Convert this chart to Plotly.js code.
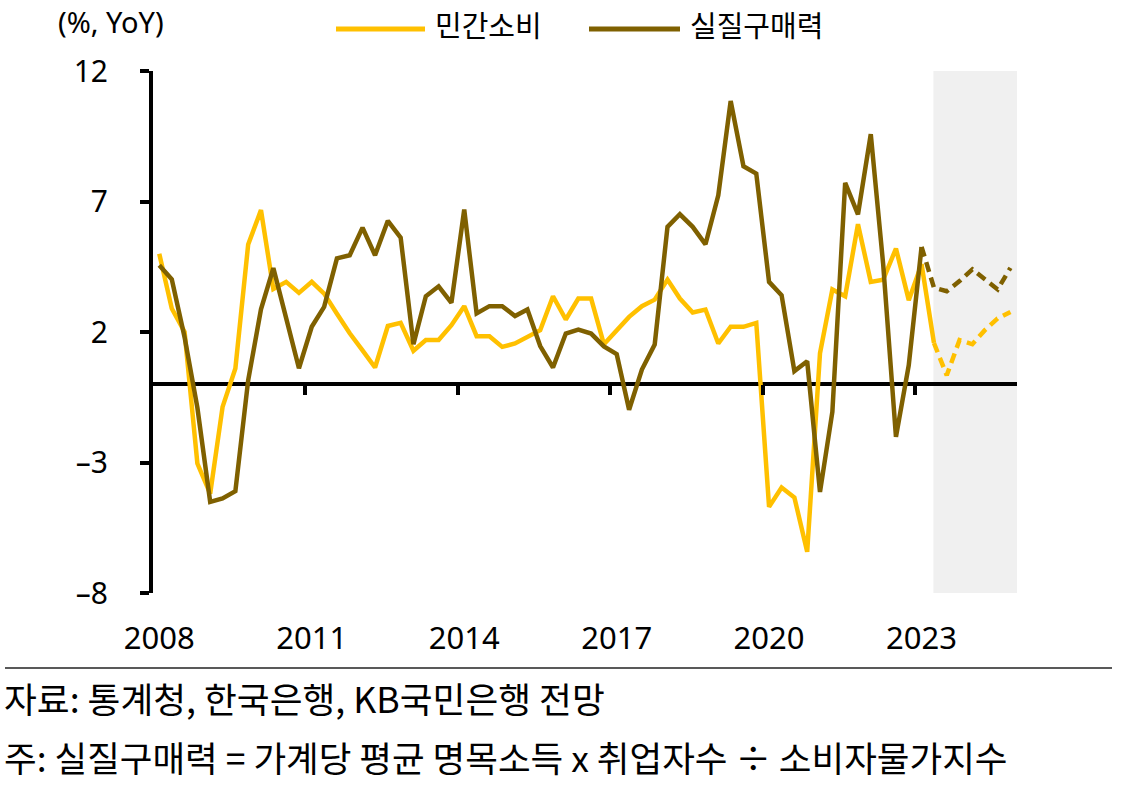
<!DOCTYPE html>
<html>
<head>
<meta charset="utf-8">
<script src="https://cdn.plot.ly/plotly-3.0.1.min.js"></script>
<style>
html,body{margin:0;padding:0;background:#fff;}
#chart{width:1127px;height:806px;}
</style>
</head>
<body>
<div id="chart"></div>
<script>
// ---- data ----
const years = [2008,2009,2010,2011,2012,2013,2014,2015,2016,2017,2018,2019,2020,2021,2022,2023,2024];
const quarterMonths = ['02','05','08','11'];
const quarters = [];
years.forEach(y => quarterMonths.forEach(m => quarters.push(y + '-' + m + '-15')));

// 민간소비 (actual, to 2023 Q2)
const consumption = [
  5.0, 2.9, 2.0, -3.04, -4.19, -0.87, 0.6, 5.35,
  6.67, 3.65, 3.92, 3.5, 3.92, 3.47, 2.7, 1.95,
  1.3, 0.64, 2.23, 2.35, 1.28, 1.69, 1.69, 2.26,
  2.99, 1.84, 1.84, 1.43, 1.56, 1.81, 2.07, 3.37,
  2.48, 3.28, 3.28, 1.53, 2.07, 2.58, 2.99, 3.24,
  4.01, 3.28, 2.75, 2.86, 1.56, 2.2, 2.2, 2.35,
  -4.7, -3.96, -4.34, -6.42, 1.18, 3.63, 3.37, 6.13,
  3.92, 4.0, 5.2, 3.22, 4.6, 1.58,
  null, null, null, null, null, null
];
// 민간소비 (forecast)
const consumptionFcst = [
  null,null,null,null,null,null,null,null,null,null,null,null,null,null,null,null,
  null,null,null,null,null,null,null,null,null,null,null,null,null,null,null,null,
  null,null,null,null,null,null,null,null,null,null,null,null,null,null,null,null,
  null,null,null,null,null,null,null,null,null,null,null,null,null,
  1.58, 0.34, 1.69, 1.53, 2.07, 2.52, 2.77
];
// 실질구매력 (actual, to 2023 Q1)
const purchasing = [
  4.56, 4.02, 1.8, -0.9, -4.51, -4.38, -4.1, 0.15,
  2.87, 4.45, 2.53, 0.61, 2.2, 2.96, 4.82, 4.94,
  6.0, 4.94, 6.26, 5.62, 1.53, 3.37, 3.75, 3.12,
  6.69, 2.71, 2.99, 2.99, 2.61, 2.86, 1.46, 0.64,
  1.94, 2.09, 1.94, 1.45, 1.15, -0.98, 0.56, 1.52,
  6.03, 6.51, 6.03, 5.36, 7.24, 10.85, 8.35, 8.07,
  3.92, 3.41, 0.5, 0.88, -4.13, -1.06, 7.71, 6.51,
  9.58, 4.6, -2.02, 0.73, 5.26,
  null, null, null, null, null, null, null
];
// 실질구매력 (forecast)
const purchasingFcst = [
  null,null,null,null,null,null,null,null,null,null,null,null,null,null,null,null,
  null,null,null,null,null,null,null,null,null,null,null,null,null,null,null,null,
  null,null,null,null,null,null,null,null,null,null,null,null,null,null,null,null,
  null,null,null,null,null,null,null,null,null,null,null,null,
  5.26, 3.7, 3.56, 3.95, 4.4, 4.0, 3.63, 4.46
];

const yTicks = [-8, -3, 2, 7, 12];
const yearLabels = ['2008','2011','2014','2017','2020','2023'];
const seriesNames = ['민간소비', '실질구매력'];

// ---- styling ----
const YELLOW = '#FFC000';
const OLIVE = '#7F6000';
const KR = '"Noto Sans CJK KR", "Noto Sans", sans-serif';
const NUM = '"Noto Sans", "DejaVu Sans", sans-serif';

const W = 1127, H = 806;
const L = 153, R = 110, T = 71, B = 213;
const PW = W - L - R, PH = H - T - B;
const px = x => (x - L) / PW;
const py = y => (H - B - y) / PH;

const traces = [
  {x: quarters, y: consumption, type: 'scatter', mode: 'lines', name: seriesNames[0],
   line: {color: YELLOW, width: 4.5}, showlegend: false, hoverinfo: 'x+y'},
  {x: quarters, y: purchasing, type: 'scatter', mode: 'lines', name: seriesNames[1],
   line: {color: OLIVE, width: 4.5}, showlegend: false, hoverinfo: 'x+y'},
  {x: quarters, y: consumptionFcst, type: 'scatter', mode: 'lines', name: seriesNames[0] + ' 전망',
   line: {color: YELLOW, width: 4.5, dash: '10px,6px'}, showlegend: false, hoverinfo: 'x+y'},
  {x: quarters, y: purchasingFcst, type: 'scatter', mode: 'lines', name: seriesNames[1] + ' 전망',
   line: {color: OLIVE, width: 4.5, dash: '10px,6px'}, showlegend: false, hoverinfo: 'x+y'},
  {x: [], y: [], xaxis: 'x2', type: 'scatter', mode: 'lines', showlegend: false, hoverinfo: 'skip'}
];

const xRange = ['2008-01-01', '2025-01-01'];
const labelVals = yearLabels.map(y => y + '-02-15');
const tickMarkVals = yearLabels.slice(1).map(y => y + '-01-01');

const layout = {
  width: W, height: H,
  margin: {l: L, r: R, t: T, b: B, pad: 0},
  paper_bgcolor: '#fff', plot_bgcolor: 'rgba(0,0,0,0)',
  showlegend: false,
  xaxis: {
    type: 'date', range: xRange, showgrid: false, zeroline: false, showline: false,
    tickmode: 'array', tickvals: labelVals, ticktext: yearLabels,
    ticks: '', tickfont: {family: NUM, size: 31, color: '#000'},
    ticklabelstandoff: 24, fixedrange: true
  },
  xaxis2: {
    type: 'date', range: xRange, overlaying: 'x', anchor: 'free', position: 0.4,
    showgrid: false, zeroline: false, showline: false, showticklabels: false,
    tickmode: 'array', tickvals: tickMarkVals, ticks: 'outside', ticklen: 10,
    tickwidth: 4, tickcolor: '#000', fixedrange: true
  },
  yaxis: {
    range: [-8, 12], tickmode: 'array', tickvals: yTicks, ticktext: yTicks.map(v => v < 0 ? '–' + Math.abs(v) : String(v)),
    showgrid: false, zeroline: true, zerolinecolor: '#000', zerolinewidth: 4,
    showline: true, linecolor: '#000', linewidth: 4,
    ticks: 'outside', ticklen: 9, tickwidth: 4, tickcolor: '#000',
    tickfont: {family: NUM, size: 30, color: '#000'},
    ticklabelstandoff: 26, fixedrange: true
  },
  shapes: [
    {type: 'rect', xref: 'x', yref: 'y', x0: '2023-05-11', x1: xRange[1], y0: -8, y1: 12,
     fillcolor: '#F0F0F0', line: {width: 0}, layer: 'below'},
    // legend keys
    {type: 'line', xref: 'paper', yref: 'paper', x0: px(336), x1: px(425), y0: py(29), y1: py(29),
     line: {color: YELLOW, width: 5}},
    {type: 'line', xref: 'paper', yref: 'paper', x0: px(589), x1: px(680), y0: py(29), y1: py(29),
     line: {color: OLIVE, width: 5}},
    // separator rule
    {type: 'line', xref: 'paper', yref: 'paper', x0: px(5), x1: px(1112), y0: py(668), y1: py(668),
     line: {color: '#222', width: 1.5}}
  ],
  annotations: [
    {text: '(%, YoY)', xref: 'paper', yref: 'paper', x: px(111), y: py(0), xanchor: 'center', yanchor: 'top',
     showarrow: false, font: {family: NUM, size: 29, color: '#000'}},
    {text: seriesNames[0], xref: 'paper', yref: 'paper', x: px(433), y: py(24), xanchor: 'left', yanchor: 'middle',
     showarrow: false, font: {family: KR, size: 29, color: '#000'}},
    {text: seriesNames[1], xref: 'paper', yref: 'paper', x: px(688), y: py(24), xanchor: 'left', yanchor: 'middle',
     showarrow: false, font: {family: KR, size: 29, color: '#000'}},
    {text: '자료: 통계청, 한국은행, KB국민은행 전망', xref: 'paper', yref: 'paper', x: px(2), y: py(697),
     xanchor: 'left', yanchor: 'middle', showarrow: false, font: {family: KR, size: 35.7, color: '#000'}},
    {text: '주: 실질구매력 = 가계당 평균 명목소득 x 취업자수 ÷ 소비자물가지수', xref: 'paper', yref: 'paper', x: px(2), y: py(756),
     xanchor: 'left', yanchor: 'middle', showarrow: false, font: {family: KR, size: 35.5, color: '#000'}}
  ]
};

Plotly.newPlot('chart', traces, layout, {displayModeBar: false, staticPlot: true});
</script>
</body>
</html>
